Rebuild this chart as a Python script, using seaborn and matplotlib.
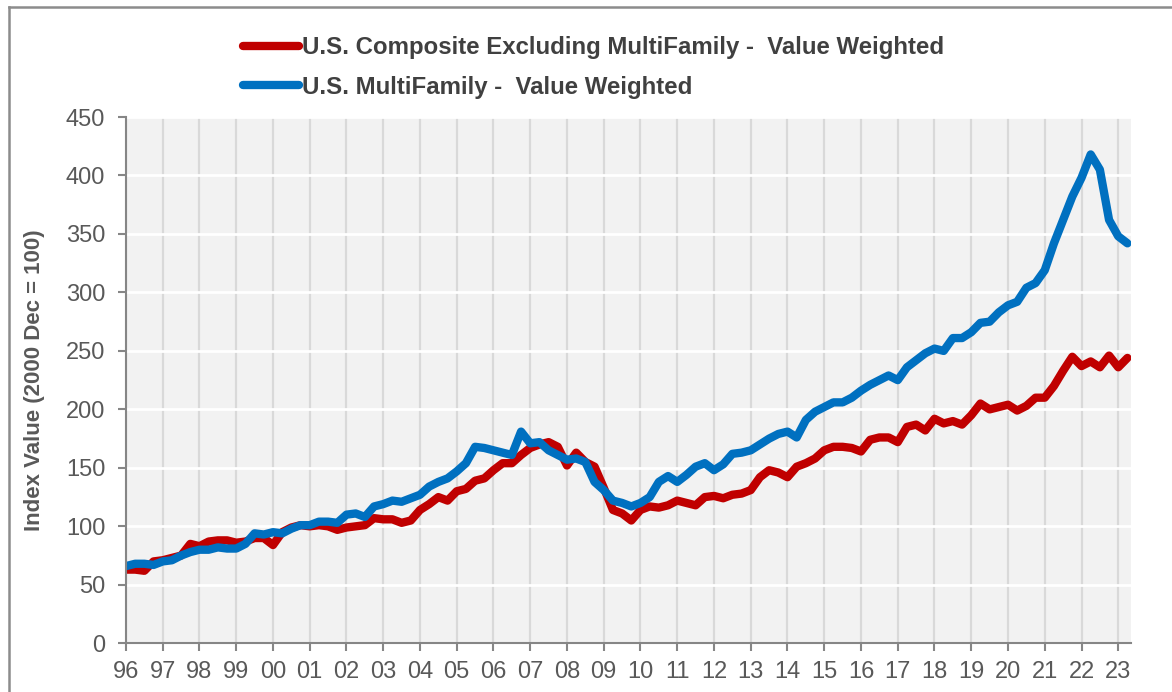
import pandas as pd
import numpy as np
import matplotlib.pyplot as plt
import seaborn as sns
from matplotlib.lines import Line2D

# quarterly index values (1996Q1 .. 2023Q2)
quarters = pd.date_range('1996-01-01', '2023-04-01', freq='QS')

composite = [
    63, 63, 62, 70,      # 1996
    71, 73, 75, 85,      # 1997
    83, 87, 88, 88,      # 1998
    86, 87, 90, 90,      # 1999
    84, 95, 99, 101,     # 2000
    100, 101, 100, 97,   # 2001
    99, 100, 101, 107,   # 2002
    106, 106, 103, 105,  # 2003
    114, 119, 125, 122,  # 2004
    130, 132, 139, 141,  # 2005
    148, 154, 154, 161,  # 2006
    167, 170, 172, 168,  # 2007
    152, 163, 155, 151,  # 2008
    133, 114, 111, 105,  # 2009
    114, 117, 116, 118,  # 2010
    122, 120, 118, 125,  # 2011
    126, 124, 127, 128,  # 2012
    131, 142, 148, 146,  # 2013
    142, 151, 154, 158,  # 2014
    165, 168, 168, 167,  # 2015
    164, 174, 176, 176,  # 2016
    172, 185, 187, 182,  # 2017
    192, 188, 190, 187,  # 2018
    195, 205, 200, 202,  # 2019
    204, 199, 203, 210,  # 2020
    210, 220, 233, 245,  # 2021
    237, 241, 236, 246,  # 2022
    236, 244,            # 2023
]

multifamily = [
    66, 68, 68, 67,      # 1996
    70, 71, 75, 78,      # 1997
    80, 80, 82, 81,      # 1998
    81, 85, 94, 93,      # 1999
    95, 94, 98, 101,     # 2000
    101, 104, 104, 103,  # 2001
    110, 111, 108, 117,  # 2002
    119, 122, 121, 124,  # 2003
    127, 134, 138, 141,  # 2004
    147, 154, 168, 167,  # 2005
    165, 163, 161, 181,  # 2006
    171, 172, 165, 161,  # 2007
    157, 158, 155, 138,  # 2008
    131, 122, 120, 117,  # 2009
    120, 125, 138, 143,  # 2010
    138, 144, 151, 154,  # 2011
    148, 153, 162, 163,  # 2012
    165, 170, 175, 179,  # 2013
    181, 176, 191, 198,  # 2014
    202, 206, 206, 210,  # 2015
    216, 221, 225, 229,  # 2016
    225, 236, 242, 248,  # 2017
    252, 250, 261, 261,  # 2018
    266, 274, 275, 283,  # 2019
    289, 292, 304, 308,  # 2020
    319, 342, 362, 382,  # 2021
    398, 418, 405, 362,  # 2022
    348, 342,            # 2023
]

names = ['U.S. Composite Excluding MultiFamily -  Value Weighted',
         'U.S. MultiFamily -  Value Weighted']
colors = ['#C00000', '#0070C0']
year_ticks = list(range(1996, 2024))

x = quarters.year + (quarters.month - 1) / 12
df = pd.DataFrame({
    'year': list(x) * 2,
    'value': composite + multifamily,
    'series': [names[0]] * len(x) + [names[1]] * len(x),
})

plt.rcParams['font.family'] = ['Liberation Sans', 'DejaVu Sans']

fig = plt.figure(figsize=(11.72, 6.92), dpi=100)
ax = fig.add_axes([0.1075, 0.0704, 0.8573, 0.7605])
ax.set_facecolor('#f2f2f2')

sns.lineplot(data=df, x='year', y='value', hue='series', hue_order=names,
             palette=colors, linewidth=6, solid_capstyle='round', ax=ax)

ax.set_xlim(1996, 2023.34)
ax.set_ylim(0, 450)
ax.set_xticks(year_ticks)
ax.set_xticklabels([f'{y % 100:02d}' for y in year_ticks])
ax.set_yticks(range(0, 451, 50))

ax.set_axisbelow(True)
ax.xaxis.grid(True, color='#d9d9d9', lw=1.6)
ax.yaxis.grid(True, color='white', lw=2)
for s in ['top', 'right']:
    ax.spines[s].set_visible(False)
for s in ['left', 'bottom']:
    ax.spines[s].set_color('#868686')
    ax.spines[s].set_linewidth(1.5)
ax.tick_params(direction='out', length=6, width=1.5, color='#868686',
               labelsize=17, labelcolor='#595959')
ax.tick_params(axis='y', pad=9)
ax.tick_params(axis='x', pad=7)

ax.set_xlabel('')
ax.set_ylabel('Index Value (2000 Dec = 100)', fontsize=16, fontweight='bold',
              color='#595959')
ax.yaxis.set_label_coords(-0.0806, 0.5)

handles, labels = ax.get_legend_handles_labels()
ax.get_legend().remove()
leg = fig.legend(handles, labels, loc='upper left',
                 bbox_to_anchor=(243 / 1172, 1 - 36 / 692),
                 frameon=False, borderpad=0, borderaxespad=0,
                 handlelength=2.35, handletextpad=0.12, labelspacing=0.7,
                 prop={'size': 17.3, 'weight': 'bold'})
for t in leg.get_texts():
    t.set_color('#404040')
for h in leg.legend_handles:
    h.set_linewidth(6)
    h.set_solid_capstyle('round')

# outer frame (top and left edges visible in the original)
fig.add_artist(Line2D([9 / 1172, 1], [1 - 7 / 692] * 2, transform=fig.transFigure,
                      color='#8c8c8c', lw=1.8))
fig.add_artist(Line2D([9 / 1172] * 2, [0, 1 - 7 / 692], transform=fig.transFigure,
                      color='#8c8c8c', lw=1.8))

fig.savefig('out.png', dpi=100)
